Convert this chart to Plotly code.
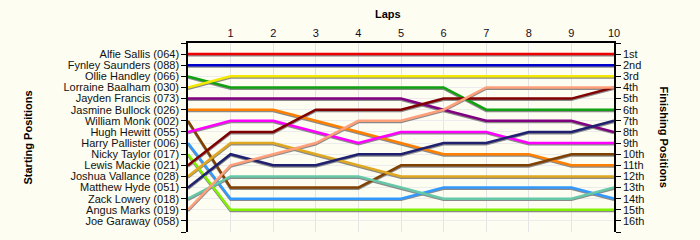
import plotly.graph_objects as go

laps = [0, 1, 2, 3, 4, 5, 6, 7, 8, 9, 10]

starting_names = [
    "Alfie Sallis (064)", "Fynley Saunders (088)", "Ollie Handley (066)",
    "Lorraine Baalham (030)", "Jayden Francis (073)", "Jasmine Bullock (026)",
    "William Monk (002)", "Hugh Hewitt (055)", "Harry Pallister (006)",
    "Nicky Taylor (017)", "Lewis Mackie (021)", "Joshua Vallance (028)",
    "Matthew Hyde (051)", "Zack Lowery (018)", "Angus Marks (019)",
    "Joe Garaway (058)",
]
finish_labels = ["1st", "2nd", "3rd", "4th", "5th", "6th", "7th", "8th", "9th",
                 "10th", "11th", "12th", "13th", "14th", "15th", "16th"]

alfie = [1, 1, 1, 1, 1, 1, 1, 1, 1, 1, 1]
fynley = [2, 2, 2, 2, 2, 2, 2, 2, 2, 2, 2]
ollie = [3, 4, 4, 4, 4, 4, 4, 6, 6, 6, 6]
lorraine = [4, 3, 3, 3, 3, 3, 3, 3, 3, 3, 3]
jayden = [5, 5, 5, 5, 5, 5, 6, 7, 7, 7, 8]
jasmine = [6, 6, 6, 7, 8, 9, 10, 10, 10, 11, 11]
william = [7, 13, 13, 13, 13, 11, 11, 11, 11, 10, 10]
hugh = [8, 7, 7, 8, 9, 8, 8, 8, 9, 9, 9]
harry = [9, 14, 14, 14, 14, 14, 13, 13, 13, 13, 14]
nicky = [10, 15, 15, 15, 15, 15, 15, 15, 15, 15, 15]
lewis = [11, 8, 8, 6, 6, 6, 5, 5, 5, 5, 4]
joshua = [12, 9, 9, 10, 11, 12, 12, 12, 12, 12, 12]
matthew = [13, 10, 11, 11, 10, 10, 9, 9, 8, 8, 7]
zack = [14, 12, 12, 12, 12, 13, 14, 14, 14, 14, 13]
angus = [15, 11, 10, 9, 7, 7, 6, 4, 4, 4, 4]

series = [
    ("Alfie Sallis (064)", alfie, "#ee0000"),
    ("Fynley Saunders (088)", fynley, "#0000cc"),
    ("Ollie Handley (066)", ollie, "#10a010"),
    ("Lorraine Baalham (030)", lorraine, "#f5e800"),
    ("Jayden Francis (073)", jayden, "#800080"),
    ("Jasmine Bullock (026)", jasmine, "#ff8000"),
    ("William Monk (002)", william, "#804000"),
    ("Hugh Hewitt (055)", hugh, "#ff00ff"),
    ("Harry Pallister (006)", harry, "#3399ff"),
    ("Nicky Taylor (017)", nicky, "#80f000"),
    ("Lewis Mackie (021)", lewis, "#800000"),
    ("Joshua Vallance (028)", joshua, "#e0a820"),
    ("Matthew Hyde (051)", matthew, "#202070"),
    ("Zack Lowery (018)", zack, "#66c8a8"),
    ("Angus Marks (019)", angus, "#ffa07a"),
]

BG = "#fdfdf2"
FONT = "Liberation Sans"
YMAX = 17
SHADOW = 0.11  # vertical offset of the drop shadow, in row units

fig = go.Figure()

# dummy traces so both labelled axes are drawn
fig.add_trace(go.Scatter(x=[None], y=[None], yaxis="y", showlegend=False,
                         hoverinfo="skip"))
fig.add_trace(go.Scatter(x=[None], y=[None], yaxis="y2", showlegend=False,
                         hoverinfo="skip"))

# drop shadows on an offset overlay axis (drawn below the coloured lines)
for name, vals, col in series:
    fig.add_trace(go.Scatter(x=laps, y=vals, mode="lines", yaxis="y3",
                             line=dict(color="#8a8a8a", width=2.5),
                             showlegend=False, hoverinfo="skip"))
# coloured lines on the top overlay axis
for name, vals, col in series:
    fig.add_trace(go.Scatter(x=laps, y=vals, mode="lines", name=name,
                             yaxis="y4", line=dict(color=col, width=2.5),
                             showlegend=False))

tickvals = list(range(0, YMAX + 1))
left_text = [""] + starting_names + [""]
right_text = [""] + finish_labels + [""]

fig.update_layout(
    width=700, height=240,
    margin=dict(l=188, r=86, t=43, b=8),
    paper_bgcolor=BG, plot_bgcolor=BG,
    font=dict(family=FONT, size=11, color="#111111"),
    xaxis=dict(range=[0, 10], side="top", tickvals=laps[1:],
               ticktext=[str(v) for v in laps[1:]],
               showgrid=True, gridcolor="#e4e4e4", gridwidth=1,
               showline=True, linecolor="black", linewidth=1.5,
               ticks="", zeroline=False, tickfont=dict(size=11, color="#1a0a1a")),
    yaxis=dict(range=[YMAX, 0], tickvals=tickvals, ticktext=left_text,
               showgrid=True, gridcolor="#ececec", gridwidth=1,
               showline=True, linecolor="black", linewidth=1.5,
               ticks="outside", ticklen=5, tickcolor="black", zeroline=False,
               tickfont=dict(size=11, color="#111111")),
    yaxis2=dict(range=[YMAX, 0], tickvals=tickvals, ticktext=right_text,
                overlaying="y", side="right", showgrid=False,
                showline=True, linecolor="black", linewidth=1.5,
                ticks="outside", ticklen=5, tickcolor="black", zeroline=False,
                tickfont=dict(size=11, color="#111111")),
    yaxis3=dict(range=[YMAX - SHADOW, -SHADOW], overlaying="y", visible=False),
    yaxis4=dict(range=[YMAX, 0], overlaying="y", visible=False),
    annotations=[
        dict(text="<b>Laps</b>", xref="paper", yref="paper", x=0.47, y=1.153,
             showarrow=False, xanchor="center", yanchor="middle",
             font=dict(size=11, color="black")),
        dict(text="<b>Starting Positions</b>", xref="paper", yref="paper",
             x=-0.3756, y=0.5, textangle=-90, showarrow=False,
             xanchor="center", yanchor="middle", font=dict(size=11, color="black")),
        dict(text="<b>Finishing Positions</b>", xref="paper", yref="paper",
             x=1.1197, y=0.5, textangle=90, showarrow=False,
             xanchor="center", yanchor="middle", font=dict(size=11, color="black")),
    ],
)

fig.write_html("out.html")
